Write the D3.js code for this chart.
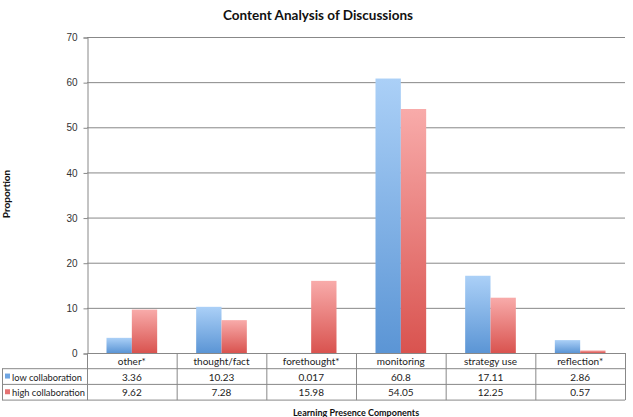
<!DOCTYPE html>
<html>
<head>
<meta charset="utf-8">
<script src="https://cdn.jsdelivr.net/npm/d3@7"></script>
<style>
  body { margin: 0; background: #fff; }
  svg { font-family: Lato, "Open Sans", sans-serif; }
</style>
</head>
<body>
<div id="chart"></div>
<script>
// data
const categories = ['other*', 'thought/fact', 'forethought*', 'monitoring', 'strategy use', 'reflection*'];
const seriesNames = ['low collaboration', 'high collaboration'];
const lowValues = [3.36, 10.23, 0.017, 60.8, 17.11, 2.86];
const highValues = [9.62, 7.28, 15.98, 54.05, 12.25, 0.57];
const lowLabels = ['3.36', '10.23', '0.017', '60.8', '17.11', '2.86'];
const highLabels = ['9.62', '7.28', '15.98', '54.05', '12.25', '0.57'];
const yTicks = [0, 10, 20, 30, 40, 50, 60, 70];

const width = 633, height = 417;
const margin = { top: 37, left: 87, right: 8, bottom: 64 };
const plotW = width - margin.left - margin.right;
const plotH = height - margin.top - margin.bottom;

const svg = d3.select('#chart').append('svg')
  .attr('width', width).attr('height', height);

// gradients
const defs = svg.append('defs');
const grads = [
  { id: 'gBlue', top: '#abd0f7', bottom: '#5b95d5' },
  { id: 'gRed', top: '#f8abaa', bottom: '#d9534f' }
];
grads.forEach(g => {
  const lg = defs.append('linearGradient').attr('id', g.id)
    .attr('x1', 0).attr('y1', 0).attr('x2', 0).attr('y2', 1);
  lg.append('stop').attr('offset', '0%').attr('stop-color', g.top);
  lg.append('stop').attr('offset', '100%').attr('stop-color', g.bottom);
});

const g = svg.append('g').attr('transform', `translate(${margin.left},${margin.top})`);

const x = d3.scaleBand().domain(categories).range([0, plotW]);
const x1 = d3.scaleBand().domain(seriesNames).range([19.5, x.bandwidth() - 19.5]);
const y = d3.scaleLinear().domain([0, 70]).range([plotH, 0]);

// gridlines
g.append('g').selectAll('line').data(yTicks.filter(d => d > 0)).join('line')
  .attr('x1', 0).attr('x2', plotW)
  .attr('y1', d => y(d) + 0.5).attr('y2', d => y(d) + 0.5)
  .attr('stroke', '#888').attr('stroke-width', 1);

// y axis
const yAxis = d3.axisLeft(y).tickValues(yTicks).tickSize(4).tickPadding(6);
const yAxisG = g.append('g').attr('transform', 'translate(0.5,0.5)').call(yAxis);
yAxisG.select('.domain').attr('stroke', '#888');
yAxisG.selectAll('.tick line').attr('stroke', '#888');
yAxisG.selectAll('text').attr('fill', '#333').style('font-size', '10px');

// bars
const rows = categories.map((c, i) => ({ cat: c, vals: [lowValues[i], highValues[i]] }));
const groups = g.append('g').selectAll('g').data(rows).join('g')
  .attr('transform', d => `translate(${x(d.cat)},0)`);
groups.selectAll('rect').data(d => d.vals.map((v, j) => ({ v, s: seriesNames[j], j })))
  .join('rect')
  .attr('x', d => x1(d.s))
  .attr('width', x1.bandwidth())
  .attr('y', d => y(d.v))
  .attr('height', d => y(0) - y(d.v))
  .attr('fill', d => d.j === 0 ? 'url(#gBlue)' : 'url(#gRed)');

// data table
const rowH = 15.7;
const tableTop = margin.top + plotH;
const tableLeft = 2;
const tg = svg.append('g');
const lineColor = '#888';
// horizontal lines
tg.append('line').attr('x1', margin.left).attr('x2', margin.left + plotW)
  .attr('y1', tableTop + 0.5).attr('y2', tableTop + 0.5).attr('stroke', lineColor);
[1, 2, 3].forEach(r => {
  tg.append('line').attr('x1', tableLeft).attr('x2', margin.left + plotW)
    .attr('y1', tableTop + r * rowH).attr('y2', tableTop + r * rowH).attr('stroke', lineColor);
});
// vertical lines
tg.append('line').attr('x1', tableLeft + 0.5).attr('x2', tableLeft + 0.5)
  .attr('y1', tableTop + rowH).attr('y2', tableTop + 3 * rowH).attr('stroke', lineColor);
categories.concat(['end']).forEach((c, i) => {
  const xx = margin.left + (i < categories.length ? x(c) : plotW) + 0.5;
  tg.append('line').attr('x1', xx).attr('x2', xx)
    .attr('y1', tableTop).attr('y2', tableTop + 3 * rowH).attr('stroke', lineColor);
});
// header text
tg.selectAll('text.hdr').data(categories).join('text').attr('class', 'hdr')
  .attr('x', d => margin.left + x(d) + x.bandwidth() / 2)
  .attr('y', tableTop + rowH / 2 + 4)
  .attr('text-anchor', 'middle').style('font-size', '10px').attr('fill', '#222')
  .text(d => d);
[lowLabels, highLabels].forEach((labels, r) => {
  tg.selectAll(`text.r${r}`).data(labels).join('text').attr('class', `r${r}`)
    .attr('x', (d, i) => margin.left + x(categories[i]) + x.bandwidth() / 2)
    .attr('y', tableTop + (r + 1) * rowH + rowH / 2 + 4)
    .attr('text-anchor', 'middle').style('font-size', '10px').attr('fill', '#222')
    .text(d => d);
  tg.append('rect').attr('x', 5).attr('y', tableTop + (r + 1) * rowH + rowH / 2 - 3)
    .attr('width', 5).attr('height', 5)
    .attr('fill', r === 0 ? '#6fa5e2' : '#e57373');
  tg.append('text').attr('x', 12).attr('y', tableTop + (r + 1) * rowH + rowH / 2 + 4)
    .style('font-size', '9.3px').attr('fill', '#222').text(seriesNames[r]);
});

// titles
svg.append('text').attr('x', 318).attr('y', 20).attr('text-anchor', 'middle')
  .style('font-size', '13.5px').style('font-weight', 'bold').attr('fill', '#111')
  .text('Content Analysis of Discussions');
svg.append('text').attr('x', 356).attr('y', 416).attr('text-anchor', 'middle')
  .style('font-size', '9px').style('font-weight', 'bold').attr('fill', '#111')
  .text('Learning Presence Components');
svg.append('text').attr('transform', 'translate(10,194) rotate(-90)').attr('text-anchor', 'middle')
  .style('font-size', '10px').style('font-weight', 'bold').attr('fill', '#111')
  .text('Proportion');
</script>
</body>
</html>
